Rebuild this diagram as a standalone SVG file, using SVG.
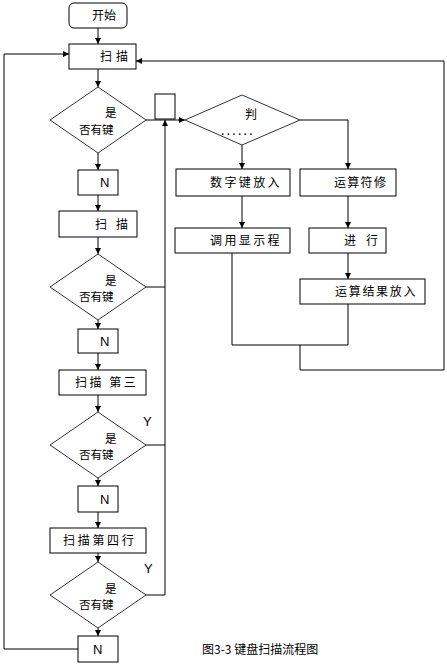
<svg xmlns="http://www.w3.org/2000/svg" width="447" height="665" viewBox="0 0 447 665">
<defs>
<marker id="ar" viewBox="0 0 10 10" refX="10" refY="5" markerWidth="6" markerHeight="6" orient="auto" markerUnits="userSpaceOnUse">
<path d="M0,0 L10,5 L0,10 z" fill="#000"/>
</marker>
</defs>
<style>
.b{fill:#fff;stroke:#000;stroke-width:1}
.d{fill:#fff;stroke:#333;stroke-width:1}
.c{fill:none;stroke:#000;stroke-width:1}
text{font-family:"Noto Sans CJK SC","Liberation Sans",sans-serif;font-size:12px;fill:#000}
.q{font-size:11.5px}
.l{font-family:"Liberation Sans","Noto Sans CJK SC",sans-serif;font-size:13px}
</style>
<rect width="447" height="665" fill="#fff"/>
<g id="connectors">
<path class="c" d="M98,28 V44" marker-end="url(#ar)"/>
<path class="c" d="M98,69 V87" marker-end="url(#ar)"/>
<path class="c" d="M146,120 H185" marker-end="url(#ar)"/>
<path class="c" d="M98,153 V170" marker-end="url(#ar)"/>
<path class="c" d="M98,195 V211" marker-end="url(#ar)"/>
<path class="c" d="M98,237 V254" marker-end="url(#ar)"/>
<path class="c" d="M98,320 V329" marker-end="url(#ar)"/>
<path class="c" d="M98,353 V370" marker-end="url(#ar)"/>
<path class="c" d="M98,395 V412" marker-end="url(#ar)"/>
<path class="c" d="M98,478 V486" marker-end="url(#ar)"/>
<path class="c" d="M98,512 V528" marker-end="url(#ar)"/>
<path class="c" d="M98,553 V562" marker-end="url(#ar)"/>
<path class="c" d="M98,628 V636" marker-end="url(#ar)"/>
<path class="c" d="M146,287 H165"/>
<path class="c" d="M146,445 H165"/>
<path class="c" d="M146,595 H165 V120" marker-end="url(#ar)"/>
<path class="c" d="M78,649 H4 V54 H69" marker-end="url(#ar)"/>
<path class="c" d="M242,145 V169" marker-end="url(#ar)"/>
<path class="c" d="M300,120 H348 V169" marker-end="url(#ar)"/>
<path class="c" d="M242,196 V228" marker-end="url(#ar)"/>
<path class="c" d="M348,196 V228" marker-end="url(#ar)"/>
<path class="c" d="M348,253 V279" marker-end="url(#ar)"/>
<path class="c" d="M232,253 V345 H348 V304"/>
<path class="c" d="M300,345 V370 H444 V61 H136" marker-end="url(#ar)"/>
</g>
<g id="start"><rect class="b" x="69" y="3" width="58" height="25" rx="5" stroke="#333"/><text x="92" y="20">开始</text></g>
<g id="scan1"><rect class="b" x="69" y="44" width="67" height="25"/><text x="100" y="61" letter-spacing="4">扫描</text></g>
<g id="dec1"><polygon class="d" points="98,87 146,120 98,153 50,120"/><text class="q" x="105" y="117">是</text><text class="q" x="79" y="134">否有键</text></g>
<g id="smallbox"><rect class="b" x="155" y="94" width="20" height="25"/></g>
<g id="dec2"><polygon class="d" points="242,95 300,120 242,145 185,120"/><text x="245" y="119">判</text><text x="221" y="135" font-size="7" letter-spacing="2.3">......</text></g>
<g id="numkey"><rect class="b" x="176" y="169" width="114" height="27"/><text x="210" y="187" letter-spacing="2.4">数字键放入</text></g>
<g id="opsym"><rect class="b" x="300" y="169" width="96" height="27"/><text x="334" y="187" letter-spacing="1.3">运算符修</text></g>
<g id="calldisp"><rect class="b" x="175" y="228" width="115" height="25"/><text x="210" y="245" letter-spacing="2.4">调用显示程</text></g>
<g id="exec"><rect class="b" x="309" y="228" width="77" height="25"/><text x="344" y="245" letter-spacing="10">进行</text></g>
<g id="result"><rect class="b" x="300" y="279" width="125" height="25"/><text x="335" y="296" letter-spacing="1.7">运算结果放入</text></g>
<g id="n1"><rect class="b" x="78" y="170" width="40" height="25"/><text class="l" x="100" y="187">N</text></g>
<g id="scan2"><rect class="b" x="59" y="211" width="78" height="26"/><text x="95" y="229" letter-spacing="9">扫描</text></g>
<g id="dec3"><polygon class="d" points="98,254 146,287 98,320 50,287"/><text class="q" x="105" y="285">是</text><text class="q" x="79" y="301">否有键</text></g>
<g id="n2"><rect class="b" x="78" y="329" width="40" height="24"/><text class="l" x="100" y="346">N</text></g>
<g id="scan3"><rect class="b" x="59" y="370" width="87" height="25"/><text x="75" y="387" letter-spacing="2.5">扫描 第三</text></g>
<g id="dec4"><polygon class="d" points="98,412 146,445 98,478 50,445"/><text class="q" x="105" y="443">是</text><text class="q" x="79" y="459">否有键</text><text class="l" x="143" y="426">Y</text></g>
<g id="n3"><rect class="b" x="78" y="486" width="40" height="26"/><text class="l" x="100" y="504">N</text></g>
<g id="scan4"><rect class="b" x="50" y="528" width="96" height="25"/><text x="63" y="545" letter-spacing="2.7">扫描第四行</text></g>
<g id="dec5"><polygon class="d" points="98,562 146,595 98,628 50,595"/><text class="q" x="105" y="593">是</text><text class="q" x="79" y="609">否有键</text><text class="l" x="144" y="573">Y</text></g>
<g id="n4"><rect class="b" x="78" y="636" width="40" height="26"/><text class="l" x="93" y="654">N</text></g>
<text x="202" y="654" font-size="13.6">图3-3 键盘扫描流程图</text>
</svg>
